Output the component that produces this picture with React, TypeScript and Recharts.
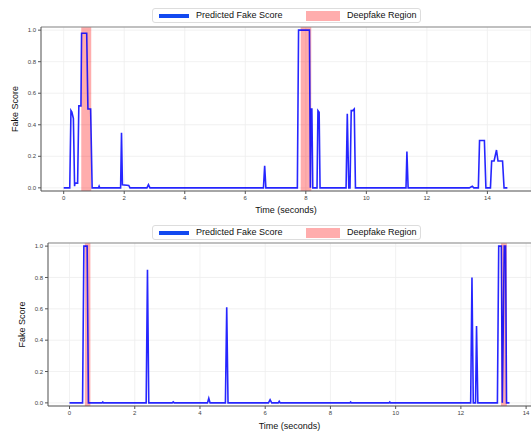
import {
  CartesianGrid,
  Line,
  LineChart,
  ReferenceArea,
  ReferenceLine,
  XAxis,
  YAxis,
} from "recharts";

// top clip: time (s) / predicted fake score
const topTimes = [
  0, 0.2, 0.24, 0.27, 0.32, 0.36, 0.37, 0.46, 0.5, 0.57, 0.59, 0.76, 0.8, 0.89, 0.94,
  1.15, 1.17, 1.19, 1.88, 1.91, 1.94, 2.15, 2.19, 2.75, 2.8, 2.85, 6.6, 6.64, 6.68,
  7.72, 7.76, 8.12, 8.15, 8.17, 8.2, 8.23, 8.37, 8.4, 8.44, 8.47, 9.33, 9.37, 9.42,
  9.46, 9.5, 9.55, 9.6, 9.64, 11.31, 11.34, 11.38, 13.4, 13.5, 13.55, 13.7, 13.74,
  13.9, 13.95, 14.1, 14.14, 14.22, 14.3, 14.35, 14.5, 14.55, 14.66,
];
const topScores = [
  0, 0, 0.49, 0.48, 0.44, 0.01, 0.03, 0.03, 0.52, 0.52, 0.98, 0.98, 0.5, 0.5, 0,
  0, 0.01, 0, 0, 0.35, 0.02, 0.015, 0, 0, 0.02, 0, 0, 0.14, 0,
  0, 1.0, 1.0, 0, 0.5, 0.5, 0, 0, 0.49, 0.48, 0, 0, 0.47, 0,
  0, 0.49, 0.49, 0.5, 0, 0, 0.23, 0, 0, 0.01, 0, 0, 0.3,
  0.3, 0, 0, 0.17, 0.17, 0.24, 0.17, 0.17, 0, 0,
];
const topRegions = [
  [0.58, 0.91],
  [7.83, 8.18],
];

// bottom clip
const bottomTimes = [
  0, 0.4, 0.44, 0.54, 0.58, 1.0, 1.02, 1.04, 2.35, 2.39, 2.43, 3.15, 3.18, 3.21,
  4.23, 4.27, 4.31, 4.78, 4.82, 4.86, 6.1, 6.15, 6.2, 6.4, 6.43, 6.46, 8.6, 8.62,
  8.64, 9.8, 9.82, 9.84, 12.3, 12.34, 12.38, 12.45, 12.48, 12.52, 13.12, 13.16,
  13.24, 13.27, 13.33, 13.37, 13.4, 13.49,
];
const bottomScores = [
  0, 0, 1.0, 1.0, 0, 0, 0.005, 0, 0, 0.85, 0, 0, 0.006, 0,
  0, 0.03, 0, 0, 0.61, 0, 0, 0.02, 0, 0, 0.01, 0, 0, 0.005,
  0, 0, 0.005, 0, 0, 0.8, 0, 0, 0.49, 0, 0, 1.0,
  1.0, 0, 1.0, 1.0, 0, 0,
];
const bottomRegions = [
  [0.47, 0.64],
  [13.23, 13.41],
];

const xTicks = [0, 2, 4, 6, 8, 10, 12, 14];
const yTicks = [0, 0.2, 0.4, 0.6, 0.8, 1.0];
const Y_DOMAIN: [number, number] = [-0.02, 1.02];

const FONT = "'Liberation Sans', Arial, sans-serif";
const LINE_BLUE = "#0000ff";
const HANDLE_BLUE = "#1249f0";
const AXIS = "#555";

function ScoreLegend({ top }: { top: number }) {
  return (
    <div
      style={{
        position: "absolute",
        top,
        left: 152,
        width: 269,
        height: 15,
        boxSizing: "border-box",
        border: "1px solid #ddd",
        borderRadius: 3,
        background: "#fff",
        fontFamily: FONT,
        fontSize: 9,
        color: "#111",
      }}
    >
      <div style={{ position: "absolute", left: 6, top: 5, width: 30, height: 4, background: HANDLE_BLUE }} />
      <div style={{ position: "absolute", left: 43, top: 1, lineHeight: "11px" }}>Predicted Fake Score</div>
      <div style={{ position: "absolute", left: 153, top: 2, width: 34, height: 10, background: "#ffadad" }} />
      <div style={{ position: "absolute", left: 194, top: 1, lineHeight: "11px" }}>Deepfake Region</div>
    </div>
  );
}

function ScorePanel({
  times,
  scores,
  regions,
  xDomain,
  axisWidth,
  xAxisHeight,
  labelX,
  labelBaseline,
}: {
  times: number[];
  scores: number[];
  regions: number[][];
  xDomain: [number, number];
  axisWidth: number;
  xAxisHeight: number;
  labelX: number;
  labelBaseline: number;
}) {
  const data = times.map((t, i) => ({ t, score: scores[i] }));
  const tickStyle = { fill: "#444", fontSize: 6, fontFamily: FONT };
  return (
    <LineChart width={531} height={216} data={data} margin={{ top: 27, right: 0, bottom: 0, left: 0 }}>
      <CartesianGrid stroke="#eeeeee" strokeWidth={0.8} />
      {regions.map(([a, b], i) => (
        <ReferenceArea key={i} x1={a} x2={b} fill="#ff0000" fillOpacity={0.32} stroke="none" />
      ))}
      <XAxis
        dataKey="t"
        type="number"
        domain={xDomain}
        ticks={xTicks}
        height={xAxisHeight}
        tickSize={3}
        tick={tickStyle}
        axisLine={{ stroke: AXIS }}
        tickLine={{ stroke: AXIS }}
        label={{
          content: (p: any) => {
            const vb = p.viewBox || {};
            return (
              <text
                x={vb.x + vb.width / 2}
                y={vb.y + labelBaseline}
                textAnchor="middle"
                fontSize={9}
                fontFamily={FONT}
                fill="#111"
              >
                Time (seconds)
              </text>
            );
          },
        }}
      />
      <YAxis
        type="number"
        domain={Y_DOMAIN}
        ticks={yTicks}
        width={axisWidth}
        tickSize={3}
        tick={tickStyle}
        tickFormatter={(v: number) => v.toFixed(1)}
        axisLine={{ stroke: AXIS }}
        tickLine={{ stroke: AXIS }}
        label={{
          content: (p: any) => {
            const vb = p.viewBox || {};
            const cy = vb.y + vb.height / 2;
            return (
              <text
                x={labelX}
                y={cy}
                transform={`rotate(-90, ${labelX}, ${cy})`}
                textAnchor="middle"
                dominantBaseline="central"
                fontSize={9}
                fontFamily={FONT}
                fill="#111"
              >
                Fake Score
              </text>
            );
          },
        }}
      />
      <ReferenceLine y={Y_DOMAIN[1]} stroke="#888" strokeWidth={1} />
      <Line
        type="linear"
        dataKey="score"
        stroke={LINE_BLUE}
        strokeOpacity={0.85}
        strokeWidth={1.6}
        dot={false}
        isAnimationActive={false}
      />
    </LineChart>
  );
}

export default function App() {
  return (
    <div style={{ position: "absolute", left: 0, top: 0, width: 531, height: 432, background: "#fff", overflow: "hidden" }}>
      <div style={{ position: "absolute", left: 0, top: 0 }}>
        <ScorePanel
          times={topTimes}
          scores={topScores}
          regions={topRegions}
          xDomain={[-0.75, 15.44]}
          axisWidth={41}
          xAxisHeight={25}
          labelX={15}
          labelBaseline={22}
        />
      </div>
      <ScoreLegend top={8} />
      <div style={{ position: "absolute", left: 0, top: 216 }}>
        <ScorePanel
          times={bottomTimes}
          scores={bottomScores}
          regions={bottomRegions}
          xDomain={[-0.66, 14.15]}
          axisWidth={48}
          xAxisHeight={26}
          labelX={22}
          labelBaseline={23}
        />
      </div>
      <ScoreLegend top={225} />
    </div>
  );
}
